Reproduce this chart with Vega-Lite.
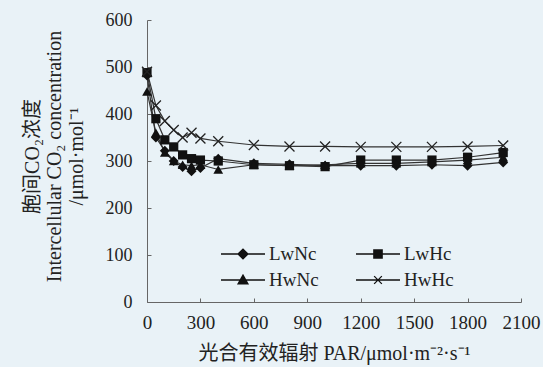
{
  "$schema": "https://vega.github.io/schema/vega-lite/v6.json",
  "autosize": "none",
  "width": 374,
  "height": 282,
  "padding": {"left": 147, "top": 20, "right": 22, "bottom": 65},
  "background": "#e9f2f7",
  "config": {
    "view": {"stroke": null},
    "font": "Liberation Serif, Noto Sans CJK SC",
    "axis": {"grid": false, "domainColor": "#666", "tickColor": "#666", "labelColor": "#222", "titleColor": "#222", "labelFont": "Liberation Serif", "titleFont": "Liberation Serif, Noto Sans CJK SC", "labelFontSize": 18, "titleFontSize": 20, "titleFontWeight": "normal", "tickSize": -4, "domainWidth": 1, "labelOverlap": false, "labelFlush": false}
  },
  "data": {"values": [
    {"par": 0, "series": "LwNc", "ci": 482}, {"par": 50, "series": "LwNc", "ci": 350}, {"par": 100, "series": "LwNc", "ci": 322}, {"par": 150, "series": "LwNc", "ci": 300}, {"par": 200, "series": "LwNc", "ci": 287}, {"par": 250, "series": "LwNc", "ci": 278}, {"par": 300, "series": "LwNc", "ci": 285}, {"par": 400, "series": "LwNc", "ci": 305}, {"par": 600, "series": "LwNc", "ci": 295}, {"par": 800, "series": "LwNc", "ci": 293}, {"par": 1000, "series": "LwNc", "ci": 290}, {"par": 1200, "series": "LwNc", "ci": 290}, {"par": 1400, "series": "LwNc", "ci": 290}, {"par": 1600, "series": "LwNc", "ci": 292}, {"par": 1800, "series": "LwNc", "ci": 290}, {"par": 2000, "series": "LwNc", "ci": 297},
    {"par": 0, "series": "LwHc", "ci": 488}, {"par": 50, "series": "LwHc", "ci": 390}, {"par": 100, "series": "LwHc", "ci": 345}, {"par": 150, "series": "LwHc", "ci": 330}, {"par": 200, "series": "LwHc", "ci": 313}, {"par": 250, "series": "LwHc", "ci": 305}, {"par": 300, "series": "LwHc", "ci": 302}, {"par": 400, "series": "LwHc", "ci": 300}, {"par": 600, "series": "LwHc", "ci": 292}, {"par": 800, "series": "LwHc", "ci": 290}, {"par": 1000, "series": "LwHc", "ci": 288}, {"par": 1200, "series": "LwHc", "ci": 302}, {"par": 1400, "series": "LwHc", "ci": 302}, {"par": 1600, "series": "LwHc", "ci": 302}, {"par": 1800, "series": "LwHc", "ci": 308}, {"par": 2000, "series": "LwHc", "ci": 318},
    {"par": 0, "series": "HwNc", "ci": 448}, {"par": 50, "series": "HwNc", "ci": 360}, {"par": 100, "series": "HwNc", "ci": 318}, {"par": 150, "series": "HwNc", "ci": 300}, {"par": 200, "series": "HwNc", "ci": 292}, {"par": 250, "series": "HwNc", "ci": 290}, {"par": 300, "series": "HwNc", "ci": 292}, {"par": 400, "series": "HwNc", "ci": 282}, {"par": 600, "series": "HwNc", "ci": 292}, {"par": 800, "series": "HwNc", "ci": 290}, {"par": 1000, "series": "HwNc", "ci": 292}, {"par": 1200, "series": "HwNc", "ci": 295}, {"par": 1400, "series": "HwNc", "ci": 295}, {"par": 1600, "series": "HwNc", "ci": 298}, {"par": 1800, "series": "HwNc", "ci": 302}, {"par": 2000, "series": "HwNc", "ci": 308},
    {"par": 0, "series": "HwHc", "ci": 490}, {"par": 50, "series": "HwHc", "ci": 418}, {"par": 100, "series": "HwHc", "ci": 385}, {"par": 150, "series": "HwHc", "ci": 366}, {"par": 200, "series": "HwHc", "ci": 350}, {"par": 250, "series": "HwHc", "ci": 360}, {"par": 300, "series": "HwHc", "ci": 348}, {"par": 400, "series": "HwHc", "ci": 342}, {"par": 600, "series": "HwHc", "ci": 334}, {"par": 800, "series": "HwHc", "ci": 331}, {"par": 1000, "series": "HwHc", "ci": 331}, {"par": 1200, "series": "HwHc", "ci": 330}, {"par": 1400, "series": "HwHc", "ci": 330}, {"par": 1600, "series": "HwHc", "ci": 330}, {"par": 1800, "series": "HwHc", "ci": 331}, {"par": 2000, "series": "HwHc", "ci": 333}
  ]},
  "encoding": {
    "x": {"field": "par", "type": "quantitative", "scale": {"domain": [0, 2100], "nice": false, "zero": true},
      "axis": {"values": [0, 300, 600, 900, 1200, 1500, 1800, 2100], "format": "d", "title": "光合有效辐射 PAR/μmol·m⁻²·s⁻¹", "titleFontSize": 20, "labelFontSize": 19, "labelFont": "Liberation Serif", "titlePadding": 11, "labelPadding": 15}},
    "y": {"field": "ci", "type": "quantitative", "scale": {"domain": [0, 600], "nice": false},
      "axis": {"values": [0, 100, 200, 300, 400, 500, 600], "format": "d", "labelFont": "Liberation Serif", "title": ["胞间CO₂浓度", "Intercellular CO₂ concentration", "/μmol·mol⁻¹"], "titleLineHeight": 22, "titleX": -109, "titleY": 136, "titleAngle": -90, "titleBaseline": "alphabetic", "titleAlign": "center", "labelPadding": 19}}
  },
  "layer": [
    {"mark": {"type": "line", "color": "#333", "strokeWidth": 1.2},
      "encoding": {"detail": {"field": "series"}}},
    {"transform": [{"filter": {"field": "series", "equal": "LwNc"}}],
      "mark": {"type": "point", "shape": "diamond", "filled": true, "color": "#111", "opacity": 1, "size": 100}},
    {"transform": [{"filter": {"field": "series", "equal": "LwHc"}}],
      "mark": {"type": "point", "shape": "square", "filled": true, "color": "#111", "opacity": 1, "size": 85}},
    {"transform": [{"filter": {"field": "series", "equal": "HwNc"}}],
      "mark": {"type": "point", "shape": "triangle-up", "filled": true, "color": "#111", "opacity": 1, "size": 95}},
    {"transform": [{"filter": {"field": "series", "equal": "HwHc"}}],
      "mark": {"type": "point", "shape": "M-1,-1L1,1M-1,1L1,-1", "filled": false, "color": "#222", "strokeWidth": 1.3, "opacity": 1, "size": 100}},
    {"mark": {"type": "point", "filled": false, "color": "#111", "strokeWidth": 1.3, "opacity": 0},
      "encoding": {"shape": {"field": "series", "type": "nominal",
        "scale": {"domain": ["LwNc", "LwHc", "HwNc", "HwHc"], "range": [
          "M-2,0L2,0M-0.45,0L0,-0.45L0.45,0L0,0.45ZM-0.09,-0.36L0.09,-0.36M-0.18,-0.27L0.18,-0.27M-0.27,-0.18L0.27,-0.18M-0.36,-0.09L0.36,-0.09M-0.36,0.09L0.36,0.09M-0.27,0.18L0.27,0.18M-0.18,0.27L0.18,0.27M-0.09,0.36L0.09,0.36",
          "M-2,0L2,0M-0.38,-0.38L0.38,-0.38L0.38,0.38L-0.38,0.38ZM-0.38,-0.285L0.38,-0.285M-0.38,-0.19L0.38,-0.19M-0.38,-0.095L0.38,-0.095M-0.38,0.095L0.38,0.095M-0.38,0.19L0.38,0.19M-0.38,0.285L0.38,0.285",
          "M-2,0L2,0M0,-0.45L0.45,0.35L-0.45,0.35ZM-0.056,-0.35L0.056,-0.35M-0.112,-0.25L0.112,-0.25M-0.169,-0.15L0.169,-0.15M-0.225,-0.05L0.225,-0.05M-0.281,0.05L0.281,0.05M-0.337,0.15L0.337,0.15M-0.394,0.25L0.394,0.25",
          "M-2,0L2,0M-0.35,-0.35L0.35,0.35M-0.35,0.35L0.35,-0.35"]},
        "legend": {"title": null, "orient": "none", "legendX": 84, "legendY": 222, "columns": 2, "direction": "horizontal", "columnPadding": 34, "rowPadding": 4, "padding": 0,
          "symbolSize": 484, "symbolOpacity": 1, "symbolFillColor": "#111", "symbolStrokeWidth": 1.3,
          "labelOffset": 14, "labelFontSize": 19, "labelFont": "Liberation Serif", "labelColor": "#222", "labelLimit": 200}}}}
  ]
}
